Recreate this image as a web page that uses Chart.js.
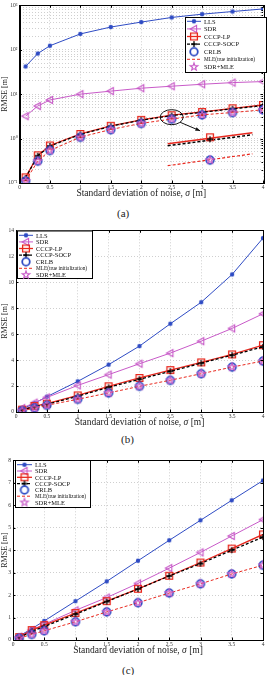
<!DOCTYPE html>
<html>
<head>
<meta charset="utf-8">
<script src="https://cdn.jsdelivr.net/npm/chart.js@4.4.1/dist/chart.umd.min.js"></script>
<style>
  html, body { margin: 0; padding: 0; background: #fff; }
  body { width: 270px; height: 675px; position: relative; overflow: hidden; font-family: "Liberation Serif", "Times New Roman", serif; }
  .plot { position: absolute; left: 0; }
  .cap { position: absolute; font-size: 11px; line-height: 12px; color: #222; }
</style>
</head>
<body>
<div class="plot" style="top:0"><canvas id="chartA" width="270" height="198"></canvas></div>
<div class="cap" style="top:207px;left:117px">(a)</div>
<div class="plot" style="top:225px"><canvas id="chartB" width="270" height="203"></canvas></div>
<div class="cap" style="top:433px;left:121px">(b)</div>
<div class="plot" style="top:455px"><canvas id="chartC" width="270" height="201"></canvas></div>
<div class="cap" style="top:664px;left:122px">(c)</div>

<script>
// noise standard deviation (x axis)
const sigma = [0.1, 0.3, 0.5, 1, 1.5, 2, 2.5, 3, 3.5, 4];
const seriesNames = ["LLS", "SDR", "CCCP-LP", "CCCP-SOCP", "CRLB", "MLE(true initialization)", "SDR+MLE"];

// (a) RMSE, log scale
const llsA = [42, 82, 123, 227, 324, 419, 533, 631, 724, 828];
const sdrA = [3.2, 5.4, 7.4, 10, 11.7, 13.6, 15.1, 16.7, 18.2, 19.2];
const lpA = [0.134, 0.42, 0.70, 1.27, 1.94, 2.64, 3.36, 3.98, 4.81, 5.7];
const socpA = [0.13, 0.41, 0.68, 1.24, 1.9, 2.6, 3.3, 3.9, 4.68, 5.52];
const crlbA = [0.111, 0.31, 0.54, 1.07, 1.58, 2.19, 2.74, 3.41, 3.84, 4.41];
const mleA = [0.112, 0.31, 0.54, 1.08, 1.6, 2.2, 2.75, 3.42, 3.86, 4.44];
const sdrMleA = [0.111, 0.31, 0.54, 1.07, 1.58, 2.19, 2.74, 3.41, 3.84, 4.41];

// (b)
const llsB = [0.22, 0.68, 1.18, 2.36, 3.65, 5.08, 6.8, 8.46, 10.6, 13.4];
const sdrB = [0.3, 0.72, 1.12, 2.05, 2.88, 3.72, 4.54, 5.46, 6.44, 7.57];
const lpB = [0.18, 0.46, 0.64, 1.28, 1.98, 2.62, 3.23, 3.82, 4.44, 5.15];
const socpB = [0.15, 0.41, 0.6, 1.22, 1.9, 2.53, 3.14, 3.76, 4.38, 5.02];
const crlbB = [0.1, 0.3, 0.52, 0.98, 1.46, 1.98, 2.44, 2.95, 3.46, 3.92];
const mleB = [0.1, 0.3, 0.52, 0.98, 1.47, 1.98, 2.45, 2.95, 3.46, 3.93];
const sdrMleB = [0.1, 0.3, 0.52, 0.98, 1.46, 1.98, 2.44, 2.95, 3.46, 3.92];

// (c)
const llsC = [0.18, 0.5, 0.85, 1.73, 2.61, 3.53, 4.44, 5.33, 6.22, 7.1];
const sdrC = [0.15, 0.45, 0.7, 1.32, 1.89, 2.52, 3.2, 3.9, 4.63, 5.36];
const lpC = [0.13, 0.44, 0.66, 1.2, 1.73, 2.28, 2.86, 3.45, 4.07, 4.7];
const socpC = [0.11, 0.38, 0.6, 1.15, 1.71, 2.27, 2.85, 3.4, 4.0, 4.58];
const crlbC = [0.08, 0.25, 0.41, 0.81, 1.25, 1.66, 2.09, 2.5, 2.94, 3.33];
const mleC = [0.08, 0.25, 0.41, 0.81, 1.25, 1.66, 2.09, 2.5, 2.94, 3.33];
const sdrMleC = [0.08, 0.25, 0.41, 0.81, 1.25, 1.66, 2.09, 2.5, 2.94, 3.33];

const logTicks = [0.1, 1, 10, 100, 1000];
const supers = { "-1": "\u207B\u00B9", "0": "\u2070", "1": "\u00B9", "2": "\u00B2", "3": "\u00B3" };

Chart.defaults.font.family = '"Liberation Serif", "Times New Roman", serif';
Chart.defaults.color = "#333";

const BLUE = "#2f4cc4";
const MAG = "#c85ac8";
const RED = "#e8281e";

function makeMarker(kind, color) {
  const c = document.createElement("canvas");
  c.width = 12; c.height = 12;
  const g = c.getContext("2d");
  const m = 6;
  g.strokeStyle = color; g.fillStyle = color; g.lineWidth = 1.1;
  g.beginPath();
  if (kind === "dot") { g.arc(m, m, 2.2, 0, Math.PI * 2); g.fill(); }
  else if (kind === "triLeft") { g.moveTo(m - 3.8, m); g.lineTo(m + 2.6, m - 3.6); g.lineTo(m + 2.6, m + 3.6); g.closePath(); g.stroke(); }
  else if (kind === "square") { g.lineWidth = 1.3; g.rect(m - 3.4, m - 3.4, 6.8, 6.8); g.stroke(); }
  else if (kind === "plus") { g.lineWidth = 1.3; g.moveTo(m - 3, m); g.lineTo(m + 3, m); g.moveTo(m, m - 3); g.lineTo(m, m + 3); g.stroke(); }
  else if (kind === "ring") { g.lineWidth = 1.8; g.arc(m, m, 3.8, 0, Math.PI * 2); g.stroke(); }
  else if (kind === "star") {
    for (let k = 0; k < 10; k++) {
      const r = k % 2 ? 1.6 : 4;
      const a = -Math.PI / 2 + k * Math.PI / 5;
      g.lineTo(m + r * Math.cos(a), m + r * Math.sin(a));
    }
    g.closePath(); g.stroke();
  }
  return c;
}

const styles = [
  { color: BLUE, lw: 1, dash: [], line: true, marker: makeMarker("dot", BLUE) },
  { color: MAG, lw: 1, dash: [], line: true, marker: makeMarker("triLeft", MAG) },
  { color: RED, lw: 1.3, dash: [], line: true, marker: makeMarker("square", RED) },
  { color: "#000", lw: 1.3, dash: [3, 2], line: true, marker: makeMarker("plus", "#000") },
  { color: BLUE, lw: 1, dash: [], line: false, marker: makeMarker("ring", BLUE) },
  { color: RED, lw: 1, dash: [3, 2], line: true, marker: null },
  { color: MAG, lw: 1, dash: [], line: false, marker: makeMarker("star", MAG) }
];

function buildDatasets(list) {
  return list.map((ys, i) => {
    const st = styles[i];
    return {
      label: seriesNames[i],
      data: sigma.map((x, j) => ({ x: x, y: ys[j] })),
      showLine: st.line,
      borderColor: st.color,
      backgroundColor: st.color,
      borderWidth: st.lw,
      borderDash: st.dash,
      pointStyle: st.marker || "circle",
      pointRadius: st.marker ? 4 : 0,
      order: -i
    };
  });
}

// box, inward ticks, legend and x title
function decorPlugin(cfg) {
  return {
    id: "decor",
    afterDraw(chart) {
      const ctx = chart.ctx;
      const a = chart.chartArea;
      const xs = chart.scales.x, ys = chart.scales.y;
      ctx.save();
      ctx.strokeStyle = "#000";
      ctx.lineWidth = 1;
      ctx.setLineDash([]);
      ctx.beginPath();
      xs.ticks.forEach(t => {
        const px = Math.round(xs.getPixelForValue(t.value)) + 0.5;
        ctx.moveTo(px, a.bottom); ctx.lineTo(px, a.bottom - 2.5);
        ctx.moveTo(px, a.top); ctx.lineTo(px, a.top + 2.5);
      });
      ys.ticks.forEach(t => {
        const len = t.label === "" ? 1.5 : 2.5;
        const py = Math.round(ys.getPixelForValue(t.value)) + 0.5;
        ctx.moveTo(a.left, py); ctx.lineTo(a.left + len, py);
        ctx.moveTo(a.right, py); ctx.lineTo(a.right - len, py);
      });
      ctx.stroke();
      ctx.strokeRect(Math.round(a.left) + 0.5, Math.round(a.top) + 0.5, Math.round(a.right - a.left), Math.round(a.bottom - a.top));

      // legend
      const L = cfg.legend;
      ctx.fillStyle = "#fff";
      ctx.fillRect(L.x, L.y, L.w, L.h);
      ctx.strokeRect(L.x + 0.5, L.y + 0.5, L.w, L.h);
      seriesNames.forEach((name, i) => {
        const st = styles[i];
        const y = L.row0 + i * L.rowH;
        if (st.line) {
          ctx.save();
          ctx.strokeStyle = st.color;
          ctx.lineWidth = st.lw;
          ctx.setLineDash(st.dash);
          ctx.beginPath();
          ctx.moveTo(L.l0, y); ctx.lineTo(L.l1, y);
          ctx.stroke();
          ctx.restore();
        }
        if (st.marker) {
          const mx = (L.l0 + L.l1) / 2;
          ctx.drawImage(st.marker, mx - st.marker.width / 2, y - st.marker.height / 2);
        }
        ctx.fillStyle = "#111";
        ctx.textBaseline = "middle";
        ctx.textAlign = "left";
        const size = i === 5 ? 5.3 : 6.5;
        ctx.font = size + 'px "Liberation Serif", serif';
        ctx.fillText(name, L.tx, y + 0.5);
      });

      // x axis title with italic sigma
      const parts = [["Standard deviation of noise, ", ""], ["\u03C3", "italic "], [" [m]", ""]];
      let total = 0;
      parts.forEach(p => { ctx.font = p[1] + '9.5px "Liberation Serif", serif'; total += ctx.measureText(p[0]).width; });
      let x = (a.left + a.right) / 2 - total / 2;
      ctx.fillStyle = "#222";
      ctx.textBaseline = "middle";
      parts.forEach(p => {
        ctx.font = p[1] + '9.5px "Liberation Serif", serif';
        ctx.fillText(p[0], x, cfg.titleY);
        x += ctx.measureText(p[0]).width;
      });
      ctx.restore();
    }
  };
}

// zoom-in annotation of (a) around sigma = 2.5
const insetA = { at: 2.5, half: 0.12, zoom: 5.8, toX: 3.13, toY: 1.07, rx: 11.5, ry: 7.5 };

const insetPlugin = {
  id: "inset",
  afterDatasetsDraw(chart) {
    const xs = chart.scales.x, ys = chart.scales.y;
    const ctx = chart.ctx;
    const pix = (xv, yv) => [xs.getPixelForValue(xv), ys.getPixelForValue(yv)];
    const along = (vals, xv) => {
      let i = sigma.findIndex(s => s >= xv);
      if (i <= 0) i = 1;
      const p0 = pix(sigma[i - 1], vals[i - 1]), p1 = pix(sigma[i], vals[i]);
      const px = xs.getPixelForValue(xv);
      const t = (px - p0[0]) / (p1[0] - p0[0]);
      return [px, p0[1] + t * (p1[1] - p0[1])];
    };
    const S = along(lpA, insetA.at);
    const T = pix(insetA.toX, insetA.toY);
    const map = p => [T[0] + insetA.zoom * (p[0] - S[0]), T[1] + insetA.zoom * (p[1] - S[1])];

    ctx.save();
    // ellipse around the source region
    const c1 = along(lpA, insetA.at), c2 = along(crlbA, insetA.at);
    const cx = c1[0], cy = (c1[1] + c2[1]) / 2;
    ctx.strokeStyle = "#111";
    ctx.lineWidth = 1;
    ctx.beginPath();
    ctx.ellipse(cx, cy, insetA.rx, insetA.ry, 0, 0, Math.PI * 2);
    ctx.stroke();
    // arrow
    const ang = 0.75;
    const ax = cx + insetA.rx * Math.cos(ang), ay = cy + insetA.ry * Math.sin(ang);
    const bx = T[0] - 10, by = T[1] - 6.5;
    ctx.beginPath(); ctx.moveTo(ax, ay); ctx.lineTo(bx, by); ctx.stroke();
    const th = Math.atan2(by - ay, bx - ax);
    ctx.fillStyle = "#111";
    ctx.beginPath();
    ctx.moveTo(bx, by);
    ctx.lineTo(bx - 5 * Math.cos(th - 0.4), by - 5 * Math.sin(th - 0.4));
    ctx.lineTo(bx - 5 * Math.cos(th + 0.4), by - 5 * Math.sin(th + 0.4));
    ctx.closePath(); ctx.fill();

    // magnified segments
    const segs = [[lpA, styles[2]], [socpA, styles[3]], [mleA, styles[5]]];
    segs.forEach(([vals, st]) => {
      const p0 = map(along(vals, insetA.at - insetA.half));
      const p1 = map(along(vals, insetA.at + insetA.half));
      ctx.strokeStyle = st.color;
      ctx.lineWidth = st.lw + 0.2;
      ctx.setLineDash(st.dash);
      ctx.beginPath(); ctx.moveTo(p0[0], p0[1]); ctx.lineTo(p1[0], p1[1]); ctx.stroke();
    });
    ctx.setLineDash([]);
    const marks = [[lpA, 2], [socpA, 3], [crlbA, 4], [sdrMleA, 6]];
    marks.forEach(([vals, i]) => {
      const p = map(along(vals, insetA.at));
      const img = styles[i].marker;
      ctx.drawImage(img, p[0] - img.width / 2, p[1] - img.height / 2);
    });
    ctx.restore();
  }
};

function makeChart(id, list, yScale, layout, extra) {
  const yAxis = Object.assign({
    afterFit: s => { s.width = layout.yw; },
    grid: { color: "#cfcfcf", lineWidth: 1, drawTicks: false },
    border: { display: true, color: "#000", dash: [1, 2] },
    title: { display: true, text: "RMSE [m]", font: { size: 8 }, color: "#222", padding: 0 }
  }, yScale);
  yAxis.ticks = Object.assign({ font: { size: 5.5 }, padding: 2, autoSkip: false, color: "#333" }, yScale.ticks || {});

  return new Chart(document.getElementById(id), {
    type: "scatter",
    data: { datasets: buildDatasets(list) },
    options: {
      responsive: false,
      animation: false,
      layout: { padding: { top: layout.top, right: layout.right, left: 0, bottom: 0 } },
      scales: {
        x: {
          type: "linear",
          min: 0,
          max: 4,
          afterFit: s => { s.height = layout.xh; },
          ticks: { stepSize: 0.5, font: { size: 5.5 }, padding: 1, color: "#333", callback: v => String(v) },
          grid: { color: "#cfcfcf", lineWidth: 1, drawTicks: false },
          border: { display: true, color: "#000", dash: [1, 2] }
        },
        y: yAxis
      },
      plugins: {
        legend: { display: false },
        tooltip: { enabled: false }
      }
    },
    plugins: [decorPlugin(layout)].concat(extra)
  });
}

const init = function () {
  makeChart("chartA", [llsA, sdrA, lpA, socpA, crlbA, mleA, sdrMleA], {
    type: "logarithmic",
    min: 0.1,
    max: 1000,
    afterBuildTicks: s => {
      const t = [];
      for (let e = -1; e < 3; e++) for (let m = 1; m < 10; m++) t.push({ value: m * Math.pow(10, e) });
      t.push({ value: 1000 });
      s.ticks = t;
    },
    ticks: {
      callback: v => {
        const hit = logTicks.find(p => Math.abs(p - v) < 1e-9 * p);
        if (hit === undefined) return "";
        return "10" + supers[String(Math.round(Math.log10(hit)))];
      }
    }
  }, { top: 3, right: 7, yw: 19.5, xh: 15, titleY: 193,
       legend: { x: 185, y: 17, w: 81, h: 55, row0: 21.3, rowH: 7.6, l0: 187, l1: 201, tx: 204 } }, [insetPlugin]);

  makeChart("chartB", [llsB, sdrB, lpB, socpB, crlbB, mleB, sdrMleB], {
    type: "linear", min: 0, max: 14, ticks: { stepSize: 2 }
  }, { top: 5, right: 7, yw: 16, xh: 16, titleY: 197.5,
       legend: { x: 17, y: 5.5, w: 75, h: 47.5, row0: 10.3, rowH: 6.6, l0: 19, l1: 33, tx: 36 } }, []);

  makeChart("chartC", [llsC, sdrC, lpC, socpC, crlbC, mleC, sdrMleC], {
    type: "linear", min: 0, max: 8, ticks: { stepSize: 1 }
  }, { top: 4, right: 7, yw: 13, xh: 16, titleY: 195.5,
       legend: { x: 15, y: 5, w: 75, h: 47, row0: 9.7, rowH: 6.3, l0: 17, l1: 32, tx: 35 } }, []);
};

document.addEventListener("DOMContentLoaded", init);
</script>
</body>
</html>
